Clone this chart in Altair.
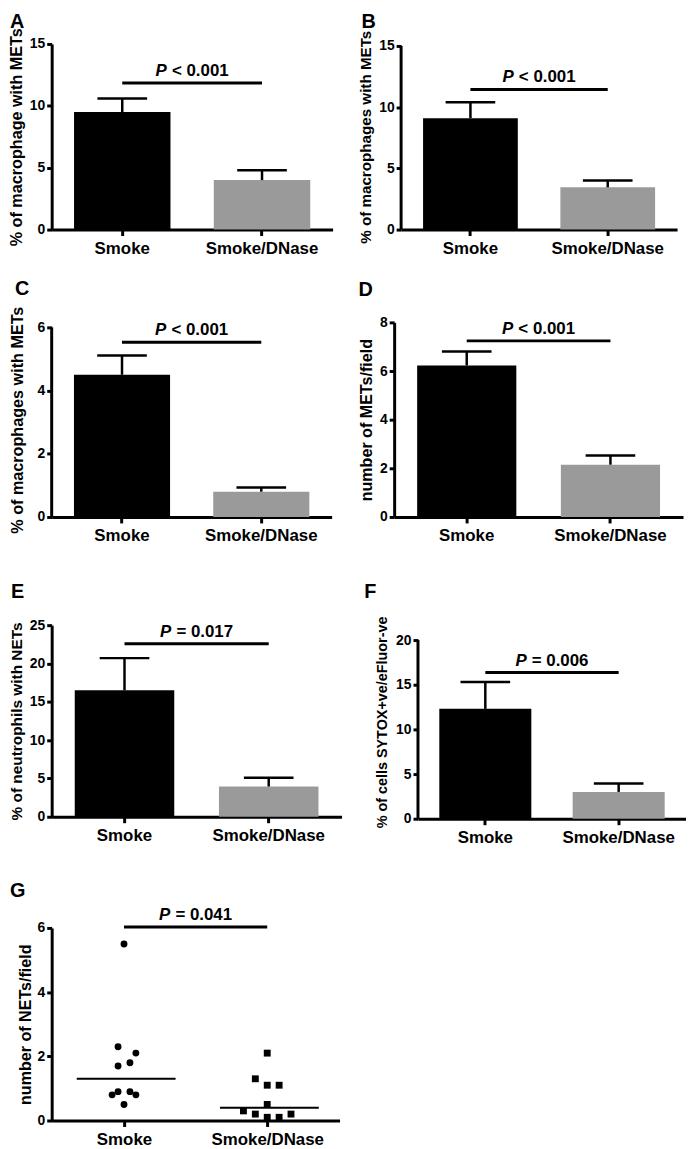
import altair as alt
import pandas as pd

FONT = "Liberation Sans"
groups = ["Smoke", "Smoke/DNase"]

# ---- data ----
a_mean = [9.5, 4.0];  a_upper = [10.6, 4.8];  a_p = 11.85
b_mean = [9.1, 3.45]; b_upper = [10.4, 4.0];  b_p = 11.45
c_mean = [4.5, 0.8];  c_upper = [5.11, 0.93]; c_p = 5.53
d_mean = [6.23, 2.15]; d_upper = [6.8, 2.53]; d_p = 7.24
e_mean = [16.5, 3.95]; e_upper = [20.7, 5.1]; e_p = 22.58
f_mean = [12.3, 3.0]; f_upper = [15.3, 3.95]; f_p = 16.36

g_smoke = [5.5, 2.3, 2.1, 1.8, 1.7, 0.9, 0.9, 0.8, 0.8, 0.5]
g_smoke_slot = [0, -0.5, 1, 0.5, -0.5, -0.5, 0.5, -1, 1, 0]
g_dnase = [2.1, 1.3, 1.1, 1.1, 0.5, 0.3, 0.2, 0.2, 0.1, 0.1]
g_dnase_slot = [0, -1, 0, 1, 0, -2, -1, 2, 0, 1]
g_median = [1.3, 0.4]
g_p = 6.03

PI, PO = 0.31, 0.16
PFS = 17


def yaxis(title, ticks, domain=True, tsize=16, tweight="bold", tpad=5):
    return alt.Axis(title=title, values=ticks, domain=domain, domainWidth=3,
                    tickSize=5, tickWidth=3, labelPadding=2, labelFontSize=14,
                    labelFontWeight="bold", titleFontSize=tsize,
                    titleFontWeight=tweight, titlePadding=tpad, grid=False)


def xaxis(**kw):
    return alt.Axis(title=None, labelAngle=0, domainWidth=3, tickSize=6,
                    tickWidth=3, labelPadding=5, labelFontSize=17,
                    labelFontWeight="bold", grid=False, **kw)


def p_offsets(fs=PFS):
    total = fs * (0.667 + 0.3 + 3.364)
    start = -total / 2
    p_right = start + 0.667 * fs
    rest_left = p_right + 0.3 * fs
    return p_right, rest_left


def letter_layer(letter, dx, dy):
    return alt.Chart(pd.DataFrame({"t": [letter]})).mark_text(
        align="left", baseline="top", fontSize=20, fontWeight="bold",
        font=FONT, color="black").encode(
        text="t:N", x=alt.value(dx), y=alt.value(dy))


TXT = dict(fontWeight="bold", fontSize=PFS, font=FONT, color="black",
           baseline="alphabetic", dy=-7)


def bar_panel(letter, ytitle, ymax, ticks, means, uppers, ptext, py, w, h,
              pad, t_dx, t_dy, tsize=16, tweight="bold", tpad=5):
    df = pd.DataFrame({"group": groups, "mean": means, "upper": uppers})
    ext = ymax * (h + pad) / h
    ys = alt.Scale(domain=[0, ext], nice=False, zero=True)
    xs = alt.Scale(domain=groups, paddingInner=PI, paddingOuter=PO)
    xax = xaxis()
    yax = yaxis(ytitle, ticks, domain=(pad == 0), tsize=tsize,
                tweight=tweight, tpad=tpad)

    def X(f):
        return alt.X(f, scale=xs, sort=groups, axis=xax)

    def Y(f):
        return alt.Y(f, scale=ys, axis=yax)

    bars = alt.Chart(df).mark_bar().encode(
        x=X("group:N"), y=Y("mean:Q"),
        color=alt.Color("group:N", legend=None,
                        scale=alt.Scale(domain=groups,
                                        range=["#000000", "#9a9a9a"])))
    err = alt.Chart(df).mark_rule(color="black", strokeWidth=2.5).encode(
        x=X("group:N"), y=Y("mean:Q"), y2="upper:Q")
    cap = alt.Chart(df).mark_tick(color="black", size=50, thickness=2.5,
                                  opacity=1).encode(
        x=X("group:N"), y=Y("upper:Q"))
    dfp = pd.DataFrame({"x1": [groups[0]], "x2": [groups[1]], "y": [py]})
    pline = alt.Chart(dfp).mark_rule(color="black", strokeWidth=3).encode(
        x=X("x1:N"), x2=alt.X2("x2"), y=Y("y:Q"))
    step = w / (2 - PI + 2 * PO)
    p_right, rest_left = p_offsets()
    ptxt1 = alt.Chart(dfp).mark_text(
        text="P", align="right", dx=step / 2 + p_right, fontStyle="italic",
        **TXT).encode(x=X("x1:N"), y=Y("y:Q"))
    ptxt2 = alt.Chart(dfp).mark_text(
        text=ptext, align="left", dx=step / 2 + rest_left, **TXT).encode(
        x=X("x1:N"), y=Y("y:Q"))
    layers = [bars, err, cap, pline, ptxt1, ptxt2,
              letter_layer(letter, t_dx, t_dy)]
    if pad > 0:
        dfa = pd.DataFrame({"y0": [0], "y1": [ymax]})
        axline = alt.Chart(dfa).mark_rule(color="black", strokeWidth=3).encode(
            x=alt.value(0), y=Y("y0:Q"), y2="y1:Q")
        layers.append(axline)
    return alt.layer(*layers).properties(width=w, height=h + pad)


A = bar_panel("A", "% of macrophage with METs", 15, [0, 5, 10, 15],
              a_mean, a_upper, "< 0.001", a_p, w=283, h=187, pad=0,
              t_dx=-42, t_dy=-32, tsize=16.3)
B = bar_panel("B", "% of macrophages with METs", 15, [0, 5, 10, 15],
              b_mean, b_upper, "< 0.001", b_p, w=278, h=185, pad=2,
              t_dx=-40, t_dy=-32, tsize=15.3)
C = bar_panel("C", "% of macrophages with METs", 6, [0, 2, 4, 6],
              c_mean, c_upper, "< 0.001", c_p, w=282, h=191, pad=5,
              t_dx=-37, t_dy=-43.5, tpad=12, tsize=16.3)
D = bar_panel("D", "number of METs/field", 8, [0, 2, 4, 6, 8],
              d_mean, d_upper, "< 0.001", d_p, w=291, h=196, pad=0,
              t_dx=-36, t_dy=-43, tsize=16.2)
E = bar_panel("E", "% of neutrophils with NETs", 25, [0, 5, 10, 15, 20, 25],
              e_mean, e_upper, "= 0.017", e_p, w=292, h=193, pad=0,
              t_dx=-41, t_dy=-43, tsize=15.5)
F = bar_panel("F", "%  of cells SYTOX+ve/eFluor-ve", 20, [0, 5, 10, 15, 20],
              f_mean, f_upper, "= 0.006", f_p, w=270, h=180, pad=15,
              t_dx=-54, t_dy=-43.5, tsize=14.5, tweight="bold", tpad=6)

# ---- panel G (dot plot) ----
dfg = pd.DataFrame({
    "gi": [0] * len(g_smoke) + [1] * len(g_dnase),
    "val": g_smoke + g_dnase,
    "slot": g_smoke_slot + g_dnase_slot,
    "grp": [groups[0]] * len(g_smoke) + [groups[1]] * len(g_dnase),
})
gx = alt.Scale(domain=[-0.505, 1.505], nice=False, zero=False)
gy = alt.Scale(domain=[0, 6], nice=False)
gxax = xaxis(values=[0, 1],
             labelExpr="datum.value == 0 ? 'Smoke' : 'Smoke/DNase'")
gyax = yaxis("number of NETs/field", [0, 2, 4, 6], tpad=4, tsize=16.2)


def GX(f):
    return alt.X(f, scale=gx, axis=gxax)


def GY(f):
    return alt.Y(f, scale=gy, axis=gyax)


pts = alt.Chart(dfg).transform_calculate(
    xp="datum.gi + datum.slot * 0.083").mark_point(
    filled=True, opacity=1, color="black", size=48).encode(
    x=GX("xp:Q"), y=GY("val:Q"),
    shape=alt.Shape("grp:N", legend=None,
                    scale=alt.Scale(domain=groups, range=["circle", "square"])))
dfm = pd.DataFrame({"gi": [0, 1], "med": g_median})
med = alt.Chart(dfm).transform_calculate(
    xa="datum.gi - 0.33", xb="datum.gi + 0.36").mark_rule(
    color="black", strokeWidth=2).encode(
    x=GX("xa:Q"), x2="xb:Q", y=GY("med:Q"))
dfgp = pd.DataFrame({"a": [0], "b": [1], "y": [g_p]})
gline = alt.Chart(dfgp).mark_rule(color="black", strokeWidth=3).encode(
    x=GX("a:Q"), x2="b:Q", y=GY("y:Q"))
pr, rl = p_offsets()
gmid = alt.Chart(dfgp).transform_calculate(m="(datum.a + datum.b) / 2")
gt1 = gmid.mark_text(text="P", align="right", dx=pr, fontStyle="italic",
                     **TXT).encode(x=GX("m:Q"), y=GY("y:Q"))
gt2 = gmid.mark_text(text="= 0.041", align="left", dx=rl, **TXT).encode(
    x=GX("m:Q"), y=GY("y:Q"))
G = alt.layer(pts, med, gline, gt1, gt2,
              letter_layer("G", -42, -47.5)).properties(width=290, height=194)

row1 = alt.hconcat(A, B, spacing=69, bounds="flush")
row2 = alt.hconcat(C, D, spacing=63, bounds="flush")
row3 = alt.hconcat(E, F, spacing=77, bounds="flush")

lower = alt.vconcat(row2, alt.vconcat(row3, G, spacing=35), spacing=38)
chart = alt.vconcat(row1, lower, spacing=22.5).properties(
    padding=0).configure_view(stroke=None).configure_axis(
    labelFont=FONT, titleFont=FONT, labelColor="black", titleColor="black",
    domainColor="black", tickColor="black")

chart.save("out.html", embed_options={"renderer": "svg", "actions": False})
